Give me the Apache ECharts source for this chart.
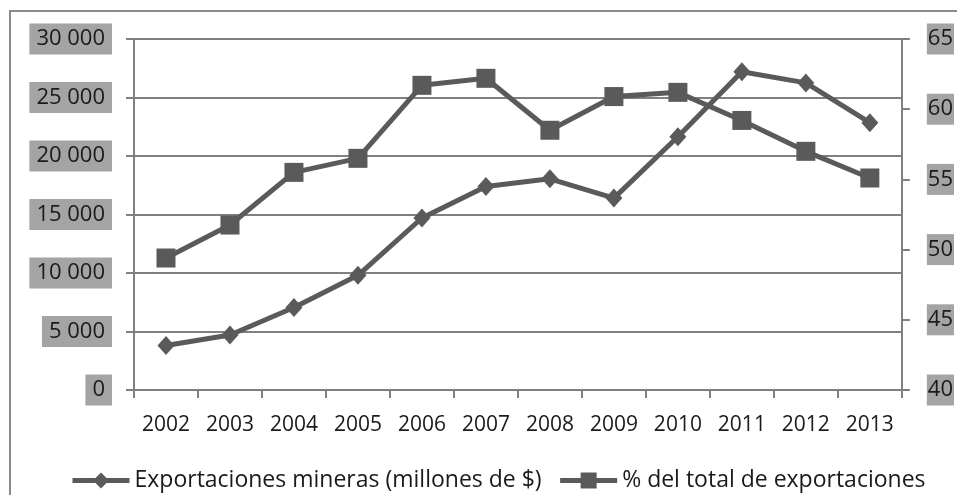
<!DOCTYPE html>
<html>
<head>
<meta charset="utf-8">
<script src="https://cdn.jsdelivr.net/npm/echarts@6/dist/echarts.min.js"></script>
<style>
  html, body { margin: 0; padding: 0; background: #fff; }
  #chart { width: 957px; height: 495px; }
</style>
</head>
<body>
<div id="chart"></div>
<script>
const years = ['2002', '2003', '2004', '2005', '2006', '2007', '2008', '2009', '2010', '2011', '2012', '2013']
// millones de $ (eje izquierdo)
const mineras = [3800, 4700, 7050, 9800, 14700, 17400, 18050, 16400, 21650, 27200, 26250, 22850]
// % del total (eje derecho)
const porcentaje = [49.4, 51.75, 55.5, 56.5, 61.7, 62.2, 58.5, 60.9, 61.2, 59.2, 57.0, 55.1]

const FONT = 'Open Sans'
const lineColor = '#5a5a5a'
const axisGray = '#808080'
const labelBox = {
  color: '#1a1a1a',
  fontFamily: FONT,
  fontSize: 22,
  backgroundColor: '#a4a4a4',
  lineHeight: 22
}

const myChart = echarts.init(document.getElementById('chart'))
myChart.setOption({
  animation: false,
  textStyle: { fontFamily: FONT },
  graphic: [{
    type: 'rect',
    shape: { x: 10, y: 11, width: 1000, height: 1000 },
    style: { fill: 'none', stroke: '#8a8a8a', lineWidth: 2 },
    silent: true
  }],
  grid: { left: 134, right: 55, top: 39, bottom: 105 },
  legend: {
    left: 70,
    top: 469,
    padding: 0,
    itemWidth: 57,
    itemHeight: 20,
    itemGap: 16,
    lineStyle: { width: 5 },
    textStyle: { fontFamily: FONT, fontSize: 23, color: '#1a1a1a' },
    data: ['Exportaciones mineras (millones de $)', '% del total de exportaciones']
  },
  xAxis: [{
    type: 'category',
    data: years,
    boundaryGap: true,
    axisLine: { lineStyle: { color: axisGray, width: 2 } },
    axisTick: { show: true, length: 8, lineStyle: { color: axisGray, width: 2 } },
    axisLabel: { color: '#1a1a1a', fontFamily: FONT, fontSize: 21, margin: 25 }
  }],
  yAxis: [{
    type: 'value',
    min: 0,
    max: 30000,
    interval: 5000,
    axisLine: { show: true, lineStyle: { color: axisGray, width: 2 } },
    axisTick: { show: true, length: 8, lineStyle: { color: axisGray, width: 2 } },
    splitLine: { show: true, lineStyle: { color: axisGray, width: 2 } },
    axisLabel: Object.assign({}, labelBox, {
      margin: 22,
      padding: [5, 7, 4, 7],
      formatter: v => String(v).replace(/\B(?=(\d{3})+(?!\d))/g, ' ')
    })
  }, {
    type: 'value',
    min: 40,
    max: 65,
    interval: 5,
    position: 'right',
    axisLine: { show: true, lineStyle: { color: axisGray, width: 2 } },
    axisTick: { show: true, length: 8, lineStyle: { color: axisGray, width: 2 } },
    splitLine: { show: false },
    axisLabel: Object.assign({}, labelBox, {
      margin: 25,
      padding: [5, 1, 4, 1]
    })
  }],
  series: [{
    name: 'Exportaciones mineras (millones de $)',
    type: 'line',
    yAxisIndex: 0,
    data: mineras,
    symbol: 'diamond',
    symbolSize: [17, 19],
    lineStyle: { color: lineColor, width: 5 },
    itemStyle: { color: lineColor }
  }, {
    name: '% del total de exportaciones',
    type: 'line',
    yAxisIndex: 1,
    data: porcentaje,
    symbol: 'rect',
    symbolSize: 19,
    lineStyle: { color: lineColor, width: 5 },
    itemStyle: { color: lineColor }
  }]
})
</script>
</body>
</html>
